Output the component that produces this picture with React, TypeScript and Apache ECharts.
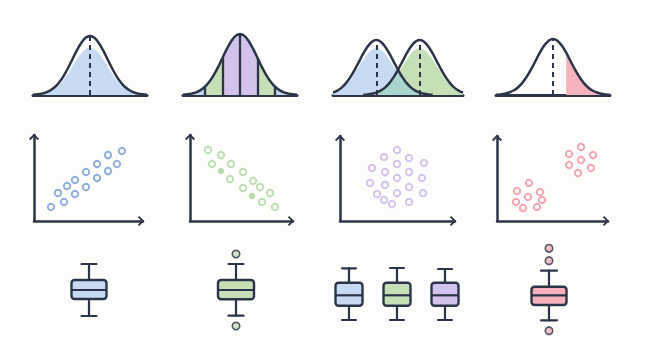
import React, { useEffect, useRef } from "react";
import * as echarts from "echarts";

const INK = "#2c3548";
const BG = "#fdfdfb";
const BLUE_FILL = "#c7daf2";
const GREEN_FILL = "#c5dfb7";
const PURPLE_FILL = "#d3c2eb";
const PINK_FILL = "#f6b3bd";
const TEAL_FILL = "#a8d5cd";
const BLUE_DOT = "#6f96d1";
const GREEN_DOT = "#a9d59c";
const PURPLE_DOT = "#c6b2e9";
const PINK_DOT = "#ee8b99";

// ---- Row 1: bell curves (offsets in standard deviations, relative heights)
const bellOffsets = [-3.25, -3, -2.75, -2.5, -2.25, -2, -1.75, -1.5, -1.25, -1, -0.75, -0.5, -0.25, 0, 0.25, 0.5, 0.75, 1, 1.25, 1.5, 1.75, 2, 2.25, 2.5, 2.75, 3, 3.25];
const bellHeights = [0.005, 0.011, 0.023, 0.044, 0.08, 0.135, 0.216, 0.325, 0.458, 0.607, 0.755, 0.882, 0.969, 1, 0.969, 0.882, 0.755, 0.607, 0.458, 0.325, 0.216, 0.135, 0.08, 0.044, 0.023, 0.011, 0.005];
const singleMean = [0];
const bandEdges = [-2, -1, 0, 1, 2];
const pairMeans = [-1.25, 1.25];
const tailStart = [0.75];
const innerFillRatio = [0.8, 0.85];

// ---- Row 2: scatter plots (x, y on a 0-100 scale)
const scatterRising = [[15.6, 16.3], [27.5, 22.1], [22.0, 32.6], [30.3, 40.7], [37.6, 31.4], [37.6, 47.7], [47.7, 39.5], [47.7, 57.0], [57.8, 50.0], [57.8, 66.3], [67.9, 58.1], [67.9, 76.7], [76.1, 66.3], [80.7, 81.4]];
const scatterFalling = [[17.5, 82.6], [30.1, 76.7], [21.4, 66.3], [39.8, 66.3], [51.5, 57.0], [38.8, 48.8], [61.2, 46.5], [68.0, 39.5], [51.5, 38.4], [77.7, 32.6], [69.9, 22.1], [82.5, 16.3]];
const scatterFallingSolid = [[30.1, 58.1], [60.2, 29.1]];
const scatterCloud = [[49.6, 83.5], [38.3, 75.3], [60.0, 74.1], [73.0, 68.2], [49.6, 67.1], [27.8, 62.4], [39.1, 57.6], [60.0, 57.6], [49.6, 50.6], [71.3, 50.6], [26.1, 44.7], [39.1, 42.4], [60.0, 40.0], [49.6, 32.9], [72.2, 32.9], [32.2, 31.8], [38.3, 24.7], [45.2, 20.0], [60.0, 22.4]];
const scatterClusters = [[75.7, 87.1], [64.9, 78.8], [86.5, 77.6], [75.7, 71.8], [64.9, 65.9], [84.7, 62.4], [73.0, 56.5], [28.8, 44.7], [18.0, 35.3], [38.7, 34.1], [27.9, 28.2], [17.1, 22.4], [40.5, 24.7], [23.4, 15.3], [36.0, 16.5]];

// ---- Row 3: box plots [min, Q1, median, Q3, max] on a 0-100 scale
const boxSingleCats = ["single"];
const boxSingle = [[24, 41, 50, 60, 76]];
const boxOutlierCats = ["outliers"];
const boxOutlier = [[24.3, 40.7, 50, 60, 76]];
const boxOutlierPoints = [86, 14];
const boxTripleCats = ["A", "B", "C"];
const boxTriple = [[20, 34.3, 44.7, 57.3, 71.7], [20, 34.3, 44.7, 57.3, 72], [20, 34.3, 44.7, 57.3, 71]];
const boxSkewCats = ["skewed"];
const boxSkew = [[19.7, 35, 44.7, 53.3, 69.3]];
const boxSkewPoints = [91.7, 79.3, 9.3];

const CHEVRON = "path://M0,5 L5,0 L10,5 L8.7,6.3 L5,2.6 L1.3,6.3 Z";

function baselineAxis(gridIndex: number, min: number, max: number) {
  return {
    type: "value", gridIndex, min, max,
    axisLine: { show: true, onZero: false, lineStyle: { color: INK, width: 3, cap: "round" } },
    axisTick: { show: false }, axisLabel: { show: false }, splitLine: { show: false },
  };
}
function hiddenAxis(gridIndex: number, min: number, max: number) {
  return { type: "value", gridIndex, min, max, show: false, splitLine: { show: false } };
}
function arrowAxis(gridIndex: number) {
  return {
    type: "value", gridIndex, min: 0, max: 100,
    axisLine: {
      show: true, onZero: false, symbol: ["none", CHEVRON], symbolSize: [10, 6.3], symbolOffset: [0, -2],
      lineStyle: { color: INK, width: 2.5 },
    },
    axisTick: { show: false }, axisLabel: { show: false }, splitLine: { show: false },
  };
}
function catAxis(gridIndex: number, data: string[]) {
  return { type: "category", gridIndex, data, show: false, boundaryGap: true };
}

function curve(mean: number, scale: number, lo = -Infinity, hi = Infinity) {
  return bellOffsets
    .map((u, i) => [mean + u, bellHeights[i] * scale])
    .filter((p) => p[0] >= lo - 1e-9 && p[0] <= hi + 1e-9);
}
function heightAt(x: number, mean: number) {
  const i = bellOffsets.findIndex((u) => Math.abs(u - (x - mean)) < 1e-9);
  return i >= 0 ? bellHeights[i] : 0;
}

function areaSeries(idx: number, data: number[][], color: string, z: number) {
  return {
    type: "line", xAxisIndex: idx, yAxisIndex: idx, data, smooth: 0.4,
    showSymbol: false, symbol: "none", lineStyle: { width: 0, opacity: 0 },
    areaStyle: { color, opacity: 1 }, z, silent: true, clip: false,
  };
}
function outlineSeries(idx: number, data: number[][], marks: number[][], dashed: boolean) {
  return {
    type: "line", xAxisIndex: idx, yAxisIndex: idx, data, smooth: 0.4,
    showSymbol: false, symbol: "none", lineStyle: { width: 2.5, color: INK }, z: 6, silent: true, clip: false,
    markLine: {
      silent: true, symbol: ["none", "none"], label: { show: false },
      lineStyle: { color: INK, width: dashed ? 2 : 2.3, type: dashed ? [5, 4] : "solid" },
      data: marks.map(([x, y]) => [{ coord: [x, 0] }, { coord: [x, y] }]),
    },
  };
}
function scatterSeries(idx: number, data: number[][], color: string, solid = false) {
  return {
    type: "scatter", xAxisIndex: idx, yAxisIndex: idx, data, symbol: "circle",
    symbolSize: solid ? 5.5 : 6.4, silent: true, z: 4,
    itemStyle: solid ? { color, borderColor: color, borderWidth: 1 } : { color: BG, borderColor: color, borderWidth: 1.9 },
  };
}
function boxSeries(idx: number, cats: string[], boxes: number[][], fills: string[], boxW: number, capW: number) {
  return {
    type: "custom", xAxisIndex: idx, yAxisIndex: idx, silent: true, z: 4,
    data: boxes.map((b, i) => [i, ...b]),
    encode: { x: 0, y: [1, 2, 3, 4, 5] },
    renderItem: (params: any, api: any) => {
      const i = api.value(0);
      const pMin = api.coord([i, api.value(1)]);
      const pQ1 = api.coord([i, api.value(2)]);
      const pMed = api.coord([i, api.value(3)]);
      const pQ3 = api.coord([i, api.value(4)]);
      const pMax = api.coord([i, api.value(5)]);
      const cx = pMed[0];
      const ls = { stroke: INK, lineWidth: 2.2, lineCap: "round" };
      return {
        type: "group",
        children: [
          { type: "line", shape: { x1: cx, y1: pMax[1], x2: cx, y2: pQ3[1] }, style: ls },
          { type: "line", shape: { x1: cx, y1: pQ1[1], x2: cx, y2: pMin[1] }, style: ls },
          { type: "line", shape: { x1: cx - capW / 2, y1: pMax[1], x2: cx + capW / 2, y2: pMax[1] }, style: ls },
          { type: "line", shape: { x1: cx - capW / 2, y1: pMin[1], x2: cx + capW / 2, y2: pMin[1] }, style: ls },
          {
            type: "rect",
            shape: { x: cx - boxW / 2, y: pQ3[1], width: boxW, height: pQ1[1] - pQ3[1], r: 3 },
            style: { fill: fills[i % fills.length], stroke: INK, lineWidth: 2.4 },
          },
          { type: "line", shape: { x1: cx - boxW / 2, y1: pMed[1], x2: cx + boxW / 2, y2: pMed[1] }, style: { stroke: INK, lineWidth: 2.2 } },
        ],
      };
    },
  };
}
function outlierSeries(idx: number, cat: string, values: number[], color: string) {
  return {
    type: "scatter", xAxisIndex: idx, yAxisIndex: idx, silent: true, z: 5,
    data: values.map((v) => [cat, v]), symbol: "circle", symbolSize: 7.5,
    itemStyle: { color, borderColor: INK, borderWidth: 1.6 },
  };
}

function buildOption() {
  const grid = [
    { left: 33, top: 36, width: 114, height: 59 },
    { left: 183, top: 34, width: 114, height: 61 },
    { left: 333, top: 40, width: 130, height: 55 },
    { left: 496, top: 39, width: 114, height: 56 },
    { left: 34, top: 135, width: 109, height: 86 },
    { left: 190, top: 135, width: 103, height: 86 },
    { left: 340, top: 136, width: 115, height: 85 },
    { left: 497, top: 136, width: 111, height: 85 },
    { left: 65, top: 240, width: 48, height: 100 },
    { left: 212, top: 240, width: 48, height: 100 },
    { left: 325, top: 240, width: 144, height: 100 },
    { left: 525, top: 240, width: 48, height: 100 },
  ];
  const xAxis = [
    baselineAxis(0, -3.25, 3.25),
    baselineAxis(1, -3.25, 3.25),
    baselineAxis(2, -3.75, 3.75),
    baselineAxis(3, -3.25, 3.25),
    arrowAxis(4), arrowAxis(5), arrowAxis(6), arrowAxis(7),
    catAxis(8, boxSingleCats), catAxis(9, boxOutlierCats), catAxis(10, boxTripleCats), catAxis(11, boxSkewCats),
  ];
  const yAxis = [
    hiddenAxis(0, 0, 1), hiddenAxis(1, 0, 1), hiddenAxis(2, 0, 1), hiddenAxis(3, 0, 1),
    arrowAxis(4), arrowAxis(5), arrowAxis(6), arrowAxis(7),
    hiddenAxis(8, 0, 100), hiddenAxis(9, 0, 100), hiddenAxis(10, 0, 100), hiddenAxis(11, 0, 100),
  ];

  // panel 3 curves and overlap
  const fillA = curve(pairMeans[0], innerFillRatio[1], -3.75, 3.75);
  const fillB = curve(pairMeans[1], innerFillRatio[1], -3.75, 3.75);
  const mapB = new Map(fillB.map((p) => [p[0].toFixed(2), p[1]]));
  const overlap = fillA
    .filter((p) => mapB.has(p[0].toFixed(2)))
    .map((p) => [p[0], Math.min(p[1], mapB.get(p[0].toFixed(2)) as number)]);

  const series: any[] = [
    // panel 1
    areaSeries(0, curve(singleMean[0], innerFillRatio[0]), BLUE_FILL, 1),
    outlineSeries(0, curve(singleMean[0], 1), [[singleMean[0], 1]], true),
    // panel 2
    areaSeries(1, curve(0, 1, -3.25, bandEdges[0]), BLUE_FILL, 1),
    areaSeries(1, curve(0, 1, bandEdges[0], bandEdges[1]), GREEN_FILL, 1),
    areaSeries(1, curve(0, 1, bandEdges[1], bandEdges[3]), PURPLE_FILL, 1),
    areaSeries(1, curve(0, 1, bandEdges[3], bandEdges[4]), GREEN_FILL, 1),
    areaSeries(1, curve(0, 1, bandEdges[4], 3.25), BLUE_FILL, 1),
    outlineSeries(1, curve(0, 1), bandEdges.map((e) => [e, heightAt(e, 0)]), false),
    // panel 3
    areaSeries(2, fillA, BLUE_FILL, 1),
    areaSeries(2, fillB, GREEN_FILL, 2),
    areaSeries(2, overlap, TEAL_FILL, 3),
    outlineSeries(2, curve(pairMeans[0], 1, -3.75, 3.75), [[pairMeans[0], 1]], true),
    outlineSeries(2, curve(pairMeans[1], 1, -3.75, 3.75), [[pairMeans[1], 1]], true),
    // panel 4
    areaSeries(3, curve(0, 1, tailStart[0], 3.25), PINK_FILL, 1),
    outlineSeries(3, curve(0, 1), [[0, 1]], true),
    // scatter row
    scatterSeries(4, scatterRising, BLUE_DOT),
    scatterSeries(5, scatterFalling, GREEN_DOT),
    scatterSeries(5, scatterFallingSolid, GREEN_DOT, true),
    scatterSeries(6, scatterCloud, PURPLE_DOT),
    scatterSeries(7, scatterClusters, PINK_DOT),
    // box row
    boxSeries(8, boxSingleCats, boxSingle, [BLUE_FILL], 35, 15),
    boxSeries(9, boxOutlierCats, boxOutlier, [GREEN_FILL], 36, 15),
    outlierSeries(9, boxOutlierCats[0], boxOutlierPoints, GREEN_FILL),
    boxSeries(10, boxTripleCats, boxTriple, [BLUE_FILL, GREEN_FILL, PURPLE_FILL], 27, 14),
    boxSeries(11, boxSkewCats, boxSkew, [PINK_FILL], 35, 16),
    outlierSeries(11, boxSkewCats[0], boxSkewPoints, PINK_FILL),
  ];

  return { animation: false, backgroundColor: BG, grid, xAxis, yAxis, series };
}

export default function App() {
  const ref = useRef<HTMLDivElement>(null);
  useEffect(() => {
    const chart = echarts.init(ref.current!, null, { renderer: "svg" });
    chart.setOption(buildOption() as any);
    return () => chart.dispose();
  }, []);
  return <div ref={ref} style={{ position: "fixed", left: 0, top: 0, width: 645, height: 360 }} />;
}
